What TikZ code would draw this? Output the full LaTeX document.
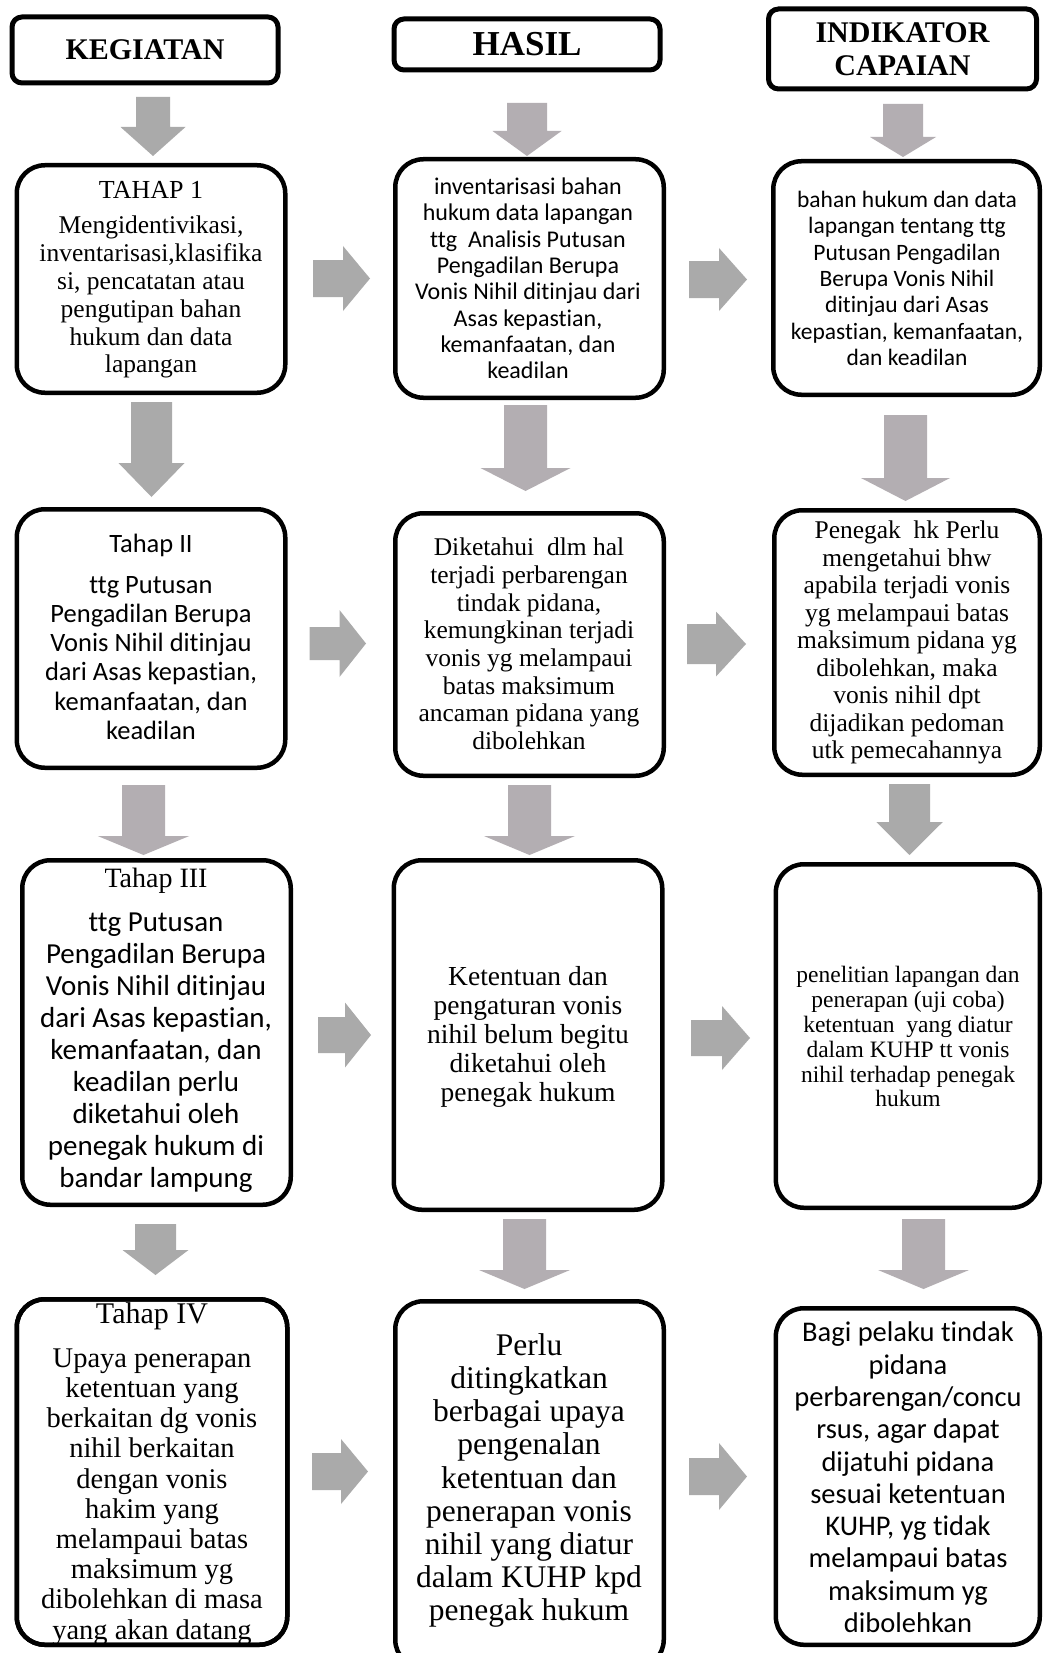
\documentclass[tikz,border=0pt]{standalone}
\usepackage{fontspec}
\setmainfont{Liberation Serif}
\newfontfamily\calfont[Ligatures=NoCommon]{Carlito}
\definecolor{agray}{RGB}{170,170,170}
\definecolor{apurp}{RGB}{179,174,178}
% down block arrow: colour, centre x, shaft half width, top, head base, head half width, tip
\newcommand\mydarr[7]{\fill[#1] ({#2-#3},#4) -- ({#2+#3},#4) -- ({#2+#3},#5) -- ({#2+#6},#5) -- (#2,#7) -- ({#2-#6},#5) -- ({#2-#3},#5) -- cycle;}
% right block arrow: colour, left x, head base x, tip x, centre y, shaft half height, head half height
\newcommand\myrarr[7]{\fill[#1] (#2,{#5-#6}) -- (#3,{#5-#6}) -- (#3,{#5-#7}) -- (#4,#5) -- (#3,{#5+#7}) -- (#3,{#5+#6}) -- (#2,{#5+#6}) -- cycle;}
\tikzset{
  box/.style={draw, line width=4.5, rounded corners=28, fill=white, outer sep=0, inner sep=0},
  hdr/.style={draw, line width=5, rounded corners=10, fill=white, outer sep=0, inner sep=0, align=center},
  txt/.style={align=center, inner sep=0},
}
\begin{document}
\begin{tikzpicture}[x=1pt,y=-1pt]
\useasboundingbox[fill=white] (0,0) rectangle (1044,1653);

% ---------- headers ----------
\node[hdr, minimum width=266, minimum height=66, font=\bfseries\fontsize{30}{33}\selectfont] (h1) at (145,50) {KEGIATAN};
\node[hdr, minimum width=266, minimum height=51, font=\bfseries\fontsize{35}{38}\selectfont] (h2) at (527,44.5) {HASIL};
\node[hdr, minimum width=268, minimum height=80, font=\bfseries\fontsize{30}{33.5}\selectfont] (h3) at (902.5,49) {INDIKATOR\\CAPAIAN};

% ---------- boxes ----------
\node[box, minimum width=268.5, minimum height=227.5] (r1c1) at (151,279) {};
\node[box, minimum width=268.5, minimum height=238.5] (r1c2) at (529.5,278.5) {};
\node[box, minimum width=266.5, minimum height=233.5] (r1c3) at (906.5,278) {};
\node[box, minimum width=268.5, minimum height=258.5] (r2c1) at (151,638.5) {};
\node[box, minimum width=268.5, minimum height=262.5] (r2c2) at (529.5,644.5) {};
\node[box, minimum width=265.5, minimum height=264.5] (r2c3) at (907,642.5) {};
\node[box, minimum width=268.5, minimum height=344.5] (r3c1) at (156.5,1032.5) {};
\node[box, minimum width=268.5, minimum height=349.5] (r3c2) at (528,1035) {};
\node[box, minimum width=263.9, minimum height=343.5] (r3c3) at (907.8,1036) {};
\node[box, minimum width=270.5, minimum height=345.5] (r4c1) at (152,1472) {};
\node[box, minimum width=268.5, minimum height=366.5] (r4c2) at (529.5,1484.5) {};
\node[box, minimum width=263.9, minimum height=336.5] (r4c3) at (907.8,1476.5) {};

% ---------- row 1 texts ----------
\node[txt, font=\fontsize{26}{28}\selectfont] (t11a) at (151,190) {TAHAP 1};
\node[txt, font=\fontsize{25.5}{27.8}\selectfont] (t11b) at (151,297.4) {Mengidentivikasi,\\inventarisasi,klasifika\\si, pencatatan atau\\pengutipan bahan\\hukum dan data\\lapangan};
\node[txt, font=\calfont\fontsize{24}{26.3}\selectfont] (t12) at (528,278.4) {inventarisasi bahan\\hukum data lapangan\\ttg~ Analisis Putusan\\Pengadilan Berupa\\Vonis Nihil ditinjau dari\\Asas kepastian,\\kemanfaatan, dan\\keadilan};
\node[txt, font=\calfont\fontsize{23.5}{26.4}\selectfont] (t13) at (907,278.4) {bahan hukum dan data\\lapangan tentang ttg\\Putusan Pengadilan\\Berupa Vonis Nihil\\ditinjau dari Asas\\kepastian, kemanfaatan,\\dan keadilan};

% ---------- row 2 texts ----------
\node[txt, font=\calfont\fontsize{26.5}{29}\selectfont] (t21a) at (151,545) {Tahap II};
\node[txt, font=\calfont\fontsize{26.5}{29.1}\selectfont] (t21b) at (151,658) {ttg Putusan\\Pengadilan Berupa\\Vonis Nihil ditinjau\\dari Asas kepastian,\\kemanfaatan, dan\\keadilan};
\node[txt, font=\fontsize{25.5}{27.7}\selectfont] (t22) at (529,644) {Diketahui~ dlm hal\\terjadi perbarengan\\tindak pidana,\\kemungkinan terjadi\\vonis yg melampaui\\batas maksimum\\ancaman pidana yang\\dibolehkan};
\node[txt, font=\fontsize{25.5}{27.5}\selectfont] (t23) at (907,642.7) {Penegak~ hk Perlu\\mengetahui bhw\\apabila terjadi vonis\\yg melampaui batas\\maksimum pidana yg\\dibolehkan, maka\\vonis nihil dpt\\dijadikan pedoman\\utk pemecahannya};

% ---------- row 3 texts ----------
\node[txt, font=\fontsize{28}{30}\selectfont] (t31a) at (156,880.5) {Tahap III};
\node[txt, font=\calfont\fontsize{29}{32}\selectfont] (t31b) at (156,1053) {ttg Putusan\\Pengadilan Berupa\\Vonis Nihil ditinjau\\dari Asas kepastian,\\kemanfaatan, dan\\keadilan perlu\\diketahui oleh\\penegak hukum di\\bandar lampung};
\node[txt, font=\fontsize{27.5}{29.2}\selectfont] (t32) at (528,1037) {Ketentuan dan\\pengaturan vonis\\nihil belum begitu\\diketahui oleh\\penegak hukum};
\node[txt, font=\fontsize{23.5}{24.9}\selectfont] (t33) at (908,1036.6) {penelitian lapangan dan\\penerapan (uji coba)\\ketentuan~ yang diatur\\dalam KUHP tt vonis\\nihil terhadap penegak\\hukum};

% ---------- row 4 texts ----------
\node[txt, font=\fontsize{30}{32}\selectfont] (t41a) at (152,1316) {Tahap IV};
\node[txt, font=\fontsize{28.5}{30.2}\selectfont] (t41b) at (152,1497) {Upaya penerapan\\ketentuan yang\\berkaitan dg vonis\\nihil berkaitan\\dengan vonis\\hakim yang\\melampaui batas\\maksimum yg\\dibolehkan di masa\\yang akan datang};
\draw[line width=4.5, rounded corners=28] (r4c1.north west) rectangle (r4c1.south east);
\node[txt, font=\fontsize{31.5}{33.2}\selectfont] (t42) at (529,1480.5) {Perlu\\ditingkatkan\\berbagai upaya\\pengenalan\\ketentuan dan\\penerapan vonis\\nihil yang diatur\\dalam KUHP kpd\\penegak hukum};
\node[txt, font=\calfont\fontsize{28.5}{32.3}\selectfont] (t43) at (908,1477.4) {Bagi pelaku tindak\\pidana\\perbarengan/concu\\rsus, agar dapat\\dijatuhi pidana\\sesuai ketentuan\\KUHP, yg tidak\\melampaui batas\\maksimum yg\\dibolehkan};

% ---------- down arrows ----------
\mydarr{agray}{153}{17}{97}{127}{32.5}{156}
\mydarr{apurp}{527}{20}{103}{131}{34.5}{156}
\mydarr{apurp}{903}{20}{104}{137}{33}{157}

\mydarr{agray}{151.5}{20.5}{402}{463}{33}{497}
\mydarr{apurp}{525.5}{21.5}{405}{468}{45}{491}
\mydarr{apurp}{905.5}{21.5}{415}{478}{44.5}{501}

\mydarr{apurp}{143.5}{21.5}{785}{836}{45.75}{855}
\mydarr{apurp}{529.5}{21.5}{785}{836}{45.5}{855}
\mydarr{agray}{909.5}{20.5}{784}{822}{33.25}{855}

\mydarr{agray}{155.5}{20.5}{1224}{1250}{33}{1275}
\mydarr{apurp}{524.5}{21.5}{1219}{1270}{45.5}{1289}
\mydarr{apurp}{923.5}{21.5}{1219}{1270}{45.5}{1289}

% ---------- right arrows ----------
\myrarr{agray}{313}{343}{370}{278.5}{18.5}{32.5}
\myrarr{agray}{689}{719}{747}{279.5}{18.5}{31.5}
\myrarr{agray}{309.6}{339.5}{366}{643.5}{16.5}{33.5}
\myrarr{agray}{687}{716}{746}{644}{20}{32.5}
\myrarr{agray}{318}{345}{371}{1035}{18}{32.5}
\myrarr{agray}{691}{722}{750}{1038}{18}{32}
\myrarr{agray}{312}{341}{368}{1471.5}{18.5}{32.5}
\myrarr{agray}{689}{719}{747}{1476.5}{18.5}{33.5}
\end{tikzpicture}
\end{document}
